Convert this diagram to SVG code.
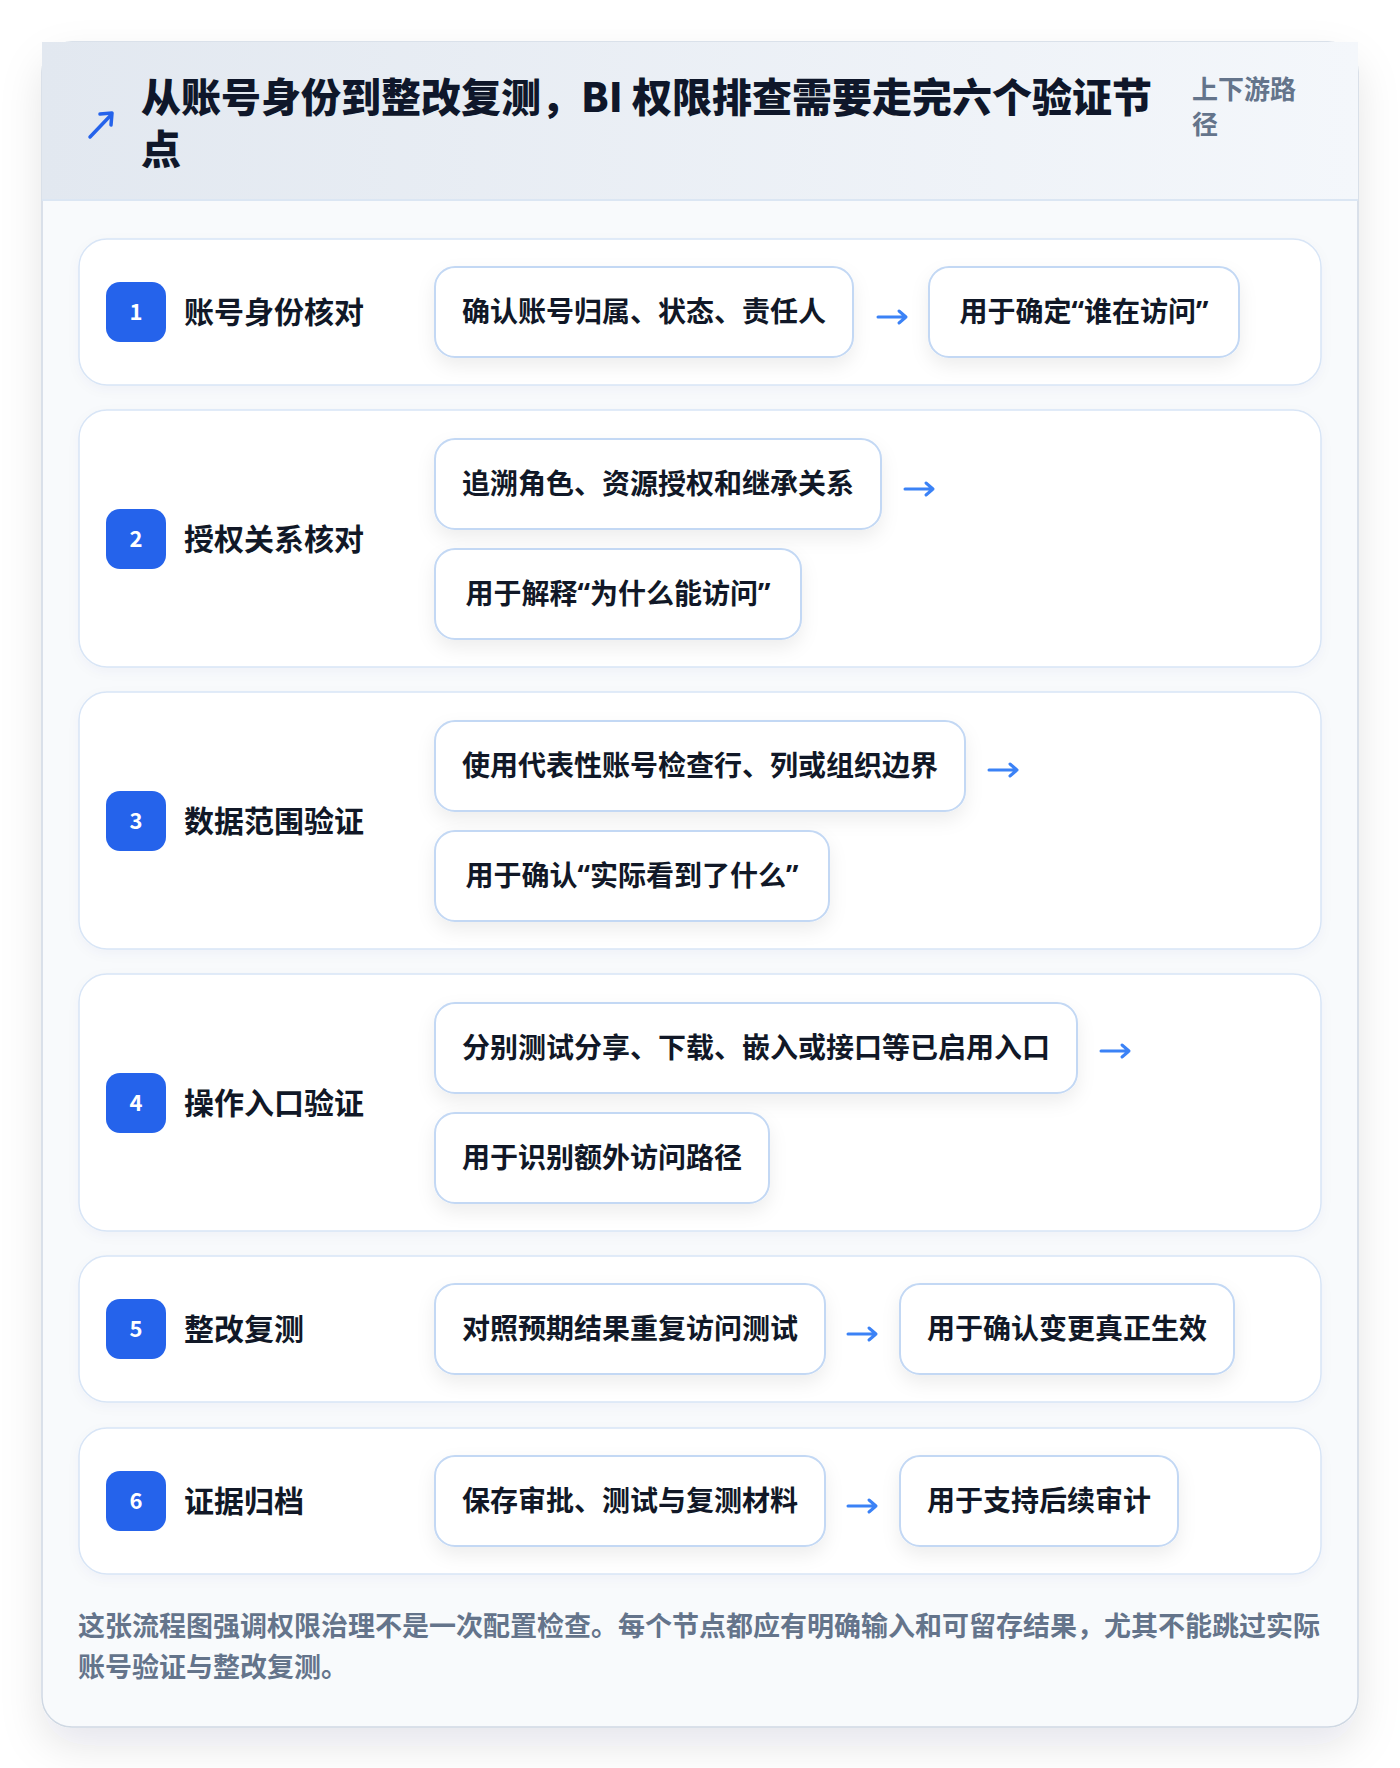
<svg xmlns="http://www.w3.org/2000/svg" width="1400" height="1768" viewBox="0 0 1400 1768">
<defs>
<linearGradient id="hdr" x1="0" y1="0" x2="1" y2="0">
<stop offset="0" stop-color="#e2e8f0"/>
<stop offset="1" stop-color="#f4f7fb"/>
</linearGradient>
<filter id="cardSh" x="-10%" y="-10%" width="120%" height="120%">
<feDropShadow dx="0" dy="18" stdDeviation="20" flood-color="#0f172a" flood-opacity="0.10"/>
</filter>
<filter id="rowSh" x="-5%" y="-10%" width="110%" height="130%">
<feDropShadow dx="0" dy="4" stdDeviation="6" flood-color="#1e3a8a" flood-opacity="0.035"/>
</filter>
<filter id="boxSh" x="-10%" y="-20%" width="120%" height="160%">
<feDropShadow dx="0" dy="8" stdDeviation="9" flood-color="#0f172a" flood-opacity="0.07"/>
</filter>
</defs>
<style>
text { font-family: "Noto Sans CJK SC", "Noto Sans", "Liberation Sans", sans-serif; }
.q { font-family: "Noto Sans", "Liberation Sans", sans-serif; }
.title { font-size: 40px; font-weight: 800; fill: #0f172a; }
.side { font-size: 26px; font-weight: 700; fill: #64748b; }
.row { fill: #ffffff; stroke: #d8e5f6; stroke-width: 1.5; }
.badge { fill: #2563eb; }
.num { font-size: 22px; font-weight: 700; fill: #ffffff; text-anchor: middle; }
.label { font-size: 30px; font-weight: 700; fill: #111827; }
.box { fill: #ffffff; stroke: #c3d8f4; stroke-width: 2; }
.bt { font-size: 28px; font-weight: 700; fill: #111827; text-anchor: middle; }
.foot { font-size: 27px; font-weight: 700; fill: #64748b; }
.conn { stroke: #3b82f6; stroke-width: 3; fill: none; stroke-linecap: round; stroke-linejoin: round; }
</style>
<rect x="0" y="0" width="1400" height="1768" fill="#ffffff"/>
<g id="card">
<rect x="42" y="42" width="1316" height="1685" rx="30" fill="#f8fafc" stroke="#cfd8e3" stroke-width="1.5" filter="url(#cardSh)"/>
<rect x="42" y="42" width="1316" height="158" fill="url(#hdr)"/>
<line x1="42" y1="200" x2="1358" y2="200" stroke="#dbe6f3" stroke-width="2"/>
</g>
<g id="header">
<g id="icon" style="stroke:#2563eb;stroke-width:3.5;fill:none;stroke-linecap:round;stroke-linejoin:round">
<line x1="90" y1="137" x2="111" y2="115"/>
<path d="M100 114 L112 113 L111 125"/>
</g>
<text class="title" x="141" y="112">从账号身份到整改复测，BI 权限排查需要走完六个验证节<tspan x="141" y="164">点</tspan></text>
<text class="side" x="1192" y="99">上下游路<tspan x="1192" y="134">径</tspan></text>
</g>
<g id="step1">
<rect class="row" x="79" y="239" width="1242" height="146" rx="28" filter="url(#rowSh)"/>
<rect class="badge" x="106" y="282" width="60" height="60" rx="14"/>
<text class="num" x="136" y="320">1</text>
<text class="label" x="184" y="323">账号身份核对</text>
<g id="step1-a"><rect class="box" x="435" y="267" width="418" height="90" rx="20" filter="url(#boxSh)"/><text class="bt" x="644" y="322">确认账号归属、状态、责任人</text></g>
<g id="step1-b"><rect class="box" x="929" y="267" width="310" height="90" rx="20" filter="url(#boxSh)"/><text class="bt" x="1084" y="322">用于确定<tspan class="q">“</tspan>谁在访问<tspan class="q">”</tspan></text></g>
</g>
<g id="step2">
<rect class="row" x="79" y="410" width="1242" height="257" rx="28" filter="url(#rowSh)"/>
<rect class="badge" x="106" y="509" width="60" height="60" rx="14"/>
<text class="num" x="136" y="547">2</text>
<text class="label" x="184" y="550">授权关系核对</text>
<g id="step2-a"><rect class="box" x="435" y="439" width="446" height="90" rx="20" filter="url(#boxSh)"/><text class="bt" x="658" y="494">追溯角色、资源授权和继承关系</text></g>
<g id="step2-b"><rect class="box" x="435" y="549" width="366" height="90" rx="20" filter="url(#boxSh)"/><text class="bt" x="618" y="604">用于解释<tspan class="q">“</tspan>为什么能访问<tspan class="q">”</tspan></text></g>
</g>
<g id="step3">
<rect class="row" x="79" y="692" width="1242" height="257" rx="28" filter="url(#rowSh)"/>
<rect class="badge" x="106" y="791" width="60" height="60" rx="14"/>
<text class="num" x="136" y="829">3</text>
<text class="label" x="184" y="832">数据范围验证</text>
<g id="step3-a"><rect class="box" x="435" y="721" width="530" height="90" rx="20" filter="url(#boxSh)"/><text class="bt" x="700" y="776">使用代表性账号检查行、列或组织边界</text></g>
<g id="step3-b"><rect class="box" x="435" y="831" width="394" height="90" rx="20" filter="url(#boxSh)"/><text class="bt" x="632" y="886">用于确认<tspan class="q">“</tspan>实际看到了什么<tspan class="q">”</tspan></text></g>
</g>
<g id="step4">
<rect class="row" x="79" y="974" width="1242" height="257" rx="28" filter="url(#rowSh)"/>
<rect class="badge" x="106" y="1073" width="60" height="60" rx="14"/>
<text class="num" x="136" y="1111">4</text>
<text class="label" x="184" y="1114">操作入口验证</text>
<g id="step4-a"><rect class="box" x="435" y="1003" width="642" height="90" rx="20" filter="url(#boxSh)"/><text class="bt" x="756" y="1058">分别测试分享、下载、嵌入或接口等已启用入口</text></g>
<g id="step4-b"><rect class="box" x="435" y="1113" width="334" height="90" rx="20" filter="url(#boxSh)"/><text class="bt" x="602" y="1168">用于识别额外访问路径</text></g>
</g>
<g id="step5">
<rect class="row" x="79" y="1256" width="1242" height="146" rx="28" filter="url(#rowSh)"/>
<rect class="badge" x="106" y="1299" width="60" height="60" rx="14"/>
<text class="num" x="136" y="1337">5</text>
<text class="label" x="184" y="1340">整改复测</text>
<g id="step5-a"><rect class="box" x="435" y="1284" width="390" height="90" rx="20" filter="url(#boxSh)"/><text class="bt" x="630" y="1339">对照预期结果重复访问测试</text></g>
<g id="step5-b"><rect class="box" x="900" y="1284" width="334" height="90" rx="20" filter="url(#boxSh)"/><text class="bt" x="1067" y="1339">用于确认变更真正生效</text></g>
</g>
<g id="step6">
<rect class="row" x="79" y="1428" width="1242" height="146" rx="28" filter="url(#rowSh)"/>
<rect class="badge" x="106" y="1471" width="60" height="60" rx="14"/>
<text class="num" x="136" y="1509">6</text>
<text class="label" x="184" y="1512">证据归档</text>
<g id="step6-a"><rect class="box" x="435" y="1456" width="390" height="90" rx="20" filter="url(#boxSh)"/><text class="bt" x="630" y="1511">保存审批、测试与复测材料</text></g>
<g id="step6-b"><rect class="box" x="900" y="1456" width="278" height="90" rx="20" filter="url(#boxSh)"/><text class="bt" x="1039" y="1511">用于支持后续审计</text></g>
</g>
<g id="connectors" class="conn">
<path d="M878 317 H906 M899 311 L906 317 L899 323"/>
<path d="M905 489 H933 M926 483 L933 489 L926 495"/>
<path d="M989 770 H1017 M1010 764 L1017 770 L1010 776"/>
<path d="M1101 1051 H1129 M1122 1045 L1129 1051 L1122 1057"/>
<path d="M848 1334 H876 M869 1328 L876 1334 L869 1340"/>
<path d="M848 1506 H876 M869 1500 L876 1506 L869 1512"/>
</g>
<g id="footer">
<text class="foot" x="78" y="1636">这张流程图强调权限治理不是一次配置检查。每个节点都应有明确输入和可留存结果，尤其不能跳过实际<tspan x="78" y="1677">账号验证与整改复测。</tspan></text>
</g>
</svg>
